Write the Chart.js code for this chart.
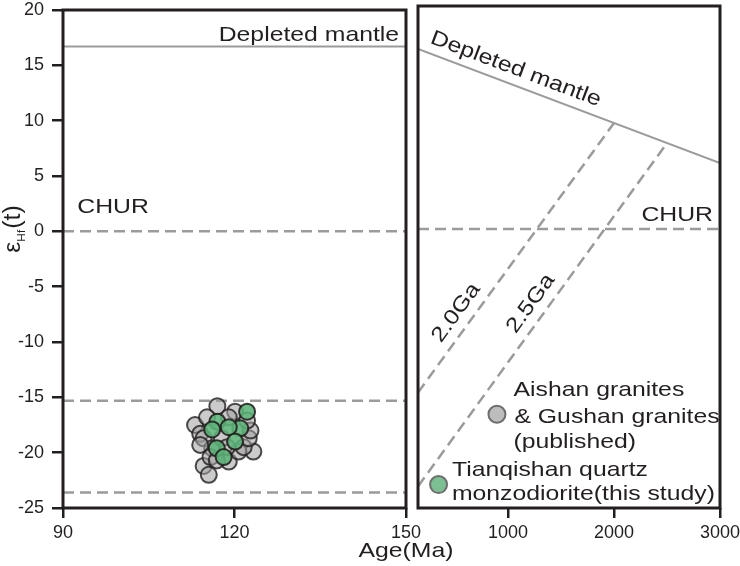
<!DOCTYPE html>
<html>
<head>
<meta charset="utf-8">
<script src="https://cdn.jsdelivr.net/npm/chart.js@4.4.1/dist/chart.umd.min.js"></script>
<style>
  html, body { margin: 0; padding: 0; background: #fff; }
  #wrap { position: relative; width: 740px; height: 566px; }
  #wrap canvas { position: absolute; left: 0; top: 0; }
</style>
</head>
<body>
<div id="wrap">
  <canvas id="ageChart" width="740" height="566"></canvas>
  <canvas id="modelChart" width="740" height="566"></canvas>
</div>
<script>
// tick labels
const epsTicks = [20, 15, 10, 5, 0, -5, -10, -15, -20, -25];
const ageTicks = [90, 120, 150];
const modelAgeTicks = [1000, 2000, 3000];

// Aishan & Gushan granites (published)
const publishedAge = [117.0, 113.1, 114.0, 114.6, 116.1, 123.3, 119.0, 114.6, 115.5, 120.7, 121.6,
  122.5, 122.8, 120.1, 119.0, 115.2, 117.8, 118.7, 114.0, 115.8, 116.9, 122.2];
const publishedEps = [-15.8, -17.5, -18.3, -18.7, -19.6, -19.9, -20.8, -21.2, -22.0, -19.9, -19.5,
  -18.7, -18.0, -16.3, -16.8, -16.8, -18.7, -19.5, -19.3, -20.4, -20.7, -17.1];

// Tianqishan quartz monzodiorite (this study)
const tianqishanAge = [122.2, 117.0, 121.0, 119.0, 116.1, 120.1, 116.9, 118.1];
const tianqishanEps = [-16.3, -17.2, -17.8, -17.7, -17.9, -19.0, -19.6, -20.4];

// reference lines
const dmLeftAge = [90, 150];
const dmLeftEps = [16.7, 16.7];
const churLeftAge = [90, 150];
const churEps = [0, 0];
const lowerLineEps = [-15.3, -23.6];
const dmRightAge = [150, 3000];
const dmRightEps = [16.15, 5.93];
const churRightAge = [150, 3000];
const ga20Age = [150, 2000];
const ga20Eps = [-14.65, 9.52];
const ga25Age = [150, 2500];
const ga25Eps = [-23.07, 7.72];

const INK = '#231f20';
const LINE_GREY = '#9b9b9b';
const FONT_FAMILY = "'Liberation Sans', Arial, sans-serif";
const TEXT_FONT = "21px " + FONT_FAMILY;
const STRETCH = 1.18;

const pts = (xs, ys) => xs.map((x, i) => ({ x: x, y: ys[i] }));

function refLine(data, dashed) {
  return {
    type: 'line', data: data, borderColor: LINE_GREY, borderWidth: dashed ? 2.5 : 2,
    borderDash: dashed ? [11, 6] : [], pointRadius: 0, pointHoverRadius: 0,
    showLine: true, fill: false, tension: 0
  };
}

function drawText(ctx, text, px, py, opt) {
  opt = opt || {};
  ctx.save();
  ctx.translate(px, py);
  if (opt.angle) ctx.rotate(opt.angle);
  ctx.scale(opt.stretch || STRETCH, 1);
  ctx.font = opt.font || TEXT_FONT;
  ctx.fillStyle = INK;
  ctx.textAlign = opt.align || 'left';
  ctx.textBaseline = opt.baseline || 'alphabetic';
  ctx.fillText(text, 0, 0);
  ctx.restore();
}

function angleOf(x, y, ages, eps) {
  return Math.atan2(y.getPixelForValue(eps[1]) - y.getPixelForValue(eps[0]),
                    x.getPixelForValue(ages[1]) - x.getPixelForValue(ages[0]));
}

function marker(ctx, px, py, fill, stroke) {
  ctx.save();
  ctx.beginPath();
  ctx.arc(px, py, 8.5, 0, Math.PI * 2);
  ctx.fillStyle = fill;
  ctx.fill();
  ctx.lineWidth = 2;
  ctx.strokeStyle = stroke;
  ctx.stroke();
  ctx.restore();
}

// black box round each panel
const framePlugin = {
  id: 'frame',
  afterDraw(chart) {
    const a = chart.chartArea;
    const ctx = chart.ctx;
    ctx.save();
    ctx.strokeStyle = INK;
    ctx.lineWidth = 3;
    ctx.strokeRect(a.left, a.top, a.right - a.left, a.bottom - a.top);
    ctx.restore();
  }
};

const tickFont = { family: FONT_FAMILY, size: 18 };
const tickGrid = { drawOnChartArea: false, drawTicks: true, tickLength: 10, color: INK, lineWidth: 2.5 };

function xScale(min, max, ticks) {
  return {
    type: 'linear', min: min, max: max,
    afterBuildTicks: s => { s.ticks = ticks.map(v => ({ value: v })); },
    afterFit: s => { s.height = 58; s.paddingLeft = 0; s.paddingRight = 0; },
    grid: tickGrid, border: { display: false },
    ticks: { font: tickFont, color: INK, padding: 4, maxRotation: 0, callback: v => String(v) }
  };
}

// ---- left panel: age 90-150 Ma ----
const ageLabels = {
  id: 'ageLabels',
  afterDraw(chart) {
    const ctx = chart.ctx, x = chart.scales.x, y = chart.scales.y;
    drawText(ctx, 'Depleted mantle', x.getPixelForValue(148.8), y.getPixelForValue(17.16), { align: 'right' });
    drawText(ctx, 'CHUR', x.getPixelForValue(92.5), y.getPixelForValue(1.66));
    drawText(ctx, 'Age(Ma)', chart.chartArea.right, 557, { align: 'center' });

    // y title: epsilon Hf(t), rotated
    ctx.save();
    ctx.translate(20, 229);
    ctx.rotate(-Math.PI / 2);
    ctx.scale(1.08, 1);
    ctx.fillStyle = INK;
    ctx.textBaseline = 'alphabetic';
    const big = "23px " + FONT_FAMILY, small = "11px " + FONT_FAMILY;
    ctx.font = big; const w1 = ctx.measureText('\u03b5').width, w3 = ctx.measureText('(t)').width;
    ctx.font = small; const w2 = ctx.measureText('Hf').width;
    let cx = -(w1 + w2 + w3 + 1) / 2;
    ctx.font = big; ctx.fillText('\u03b5', cx, 0); cx += w1;
    ctx.font = small; ctx.fillText('Hf', cx, 5); cx += w2 + 1;
    ctx.font = big; ctx.fillText('(t)', cx, 0);
    ctx.restore();
  }
};

new Chart(document.getElementById('ageChart'), {
  type: 'scatter',
  data: {
    datasets: [
      {
        label: 'Tianqishan quartz monzodiorite (this study)',
        data: pts(tianqishanAge, tianqishanEps),
        backgroundColor: 'rgba(92,180,122,0.88)', borderColor: 'rgba(30,25,25,0.85)',
        borderWidth: 2, pointRadius: 8
      },
      {
        label: 'Aishan granites & Gushan granites (published)',
        data: pts(publishedAge, publishedEps),
        backgroundColor: 'rgba(160,160,160,0.55)', borderColor: 'rgba(35,30,30,0.8)',
        borderWidth: 2, pointRadius: 8
      },
      refLine(pts(dmLeftAge, dmLeftEps), false),
      refLine(pts(churLeftAge, churEps), true),
      refLine(pts(churLeftAge, [lowerLineEps[0], lowerLineEps[0]]), true),
      refLine(pts(churLeftAge, [lowerLineEps[1], lowerLineEps[1]]), true)
    ]
  },
  options: {
    responsive: false, animation: false, events: [],
    layout: { padding: { left: 0, top: 6, right: 334, bottom: 0 } },
    plugins: { legend: { display: false }, tooltip: { enabled: false } },
    scales: {
      x: xScale(90, 150, ageTicks),
      y: {
        type: 'linear', min: -25, max: 20,
        afterBuildTicks: s => { s.ticks = epsTicks.map(v => ({ value: v })); },
        afterFit: s => { s.width = 63; s.paddingTop = 0; s.paddingBottom = 0; },
        grid: Object.assign({}, tickGrid, { tickLength: 11 }), border: { display: false },
        ticks: { font: tickFont, color: INK, padding: 8, callback: v => String(v) }
      }
    }
  },
  plugins: [framePlugin, ageLabels]
});

// ---- right panel: model ages 150-3000 Ma ----
const modelLabels = {
  id: 'modelLabels',
  afterDraw(chart) {
    const ctx = chart.ctx, x = chart.scales.x, y = chart.scales.y;
    drawText(ctx, 'Depleted mantle', x.getPixelForValue(256), y.getPixelForValue(16.71),
      { angle: angleOf(x, y, dmRightAge, dmRightEps) });
    drawText(ctx, 'CHUR', x.getPixelForValue(2934), y.getPixelForValue(0.76), { align: 'right' });
    drawText(ctx, '2.0Ga', x.getPixelForValue(511), y.getPixelForValue(-7.5),
      { align: 'center', baseline: 'middle', angle: angleOf(x, y, ga20Age, ga20Eps) });
    drawText(ctx, '2.5Ga', x.getPixelForValue(1215), y.getPixelForValue(-6.68),
      { align: 'center', baseline: 'middle', angle: angleOf(x, y, ga25Age, ga25Eps) });

    // legend
    marker(ctx, x.getPixelForValue(895), y.getPixelForValue(-16.6), '#bdbdbd', '#6e6e6e');
    drawText(ctx, 'Aishan granites', x.getPixelForValue(1051), y.getPixelForValue(-15.0));
    drawText(ctx, '& Gushan granites', x.getPixelForValue(1060), y.getPixelForValue(-17.37));
    drawText(ctx, '(published)', x.getPixelForValue(1051), y.getPixelForValue(-19.61));
    marker(ctx, x.getPixelForValue(344), y.getPixelForValue(-22.9), '#7cbf92', '#6e6e6e');
    drawText(ctx, 'Tianqishan quartz', x.getPixelForValue(470), y.getPixelForValue(-22.15));
    drawText(ctx, 'monzodiorite(this study)', x.getPixelForValue(470), y.getPixelForValue(-24.3));
  }
};

new Chart(document.getElementById('modelChart'), {
  type: 'scatter',
  data: {
    datasets: [
      refLine(pts(dmRightAge, dmRightEps), false),
      refLine(pts(churRightAge, churEps), true),
      refLine(pts(ga20Age, ga20Eps), true),
      refLine(pts(ga25Age, ga25Eps), true)
    ]
  },
  options: {
    responsive: false, animation: false, events: [],
    layout: { padding: { left: 418, top: 6, right: 20, bottom: 0 } },
    plugins: { legend: { display: false }, tooltip: { enabled: false } },
    scales: {
      x: xScale(150, 3000, modelAgeTicks),
      y: { type: 'linear', min: -25, max: 20, display: false }
    }
  },
  plugins: [framePlugin, modelLabels]
});
</script>
</body>
</html>
